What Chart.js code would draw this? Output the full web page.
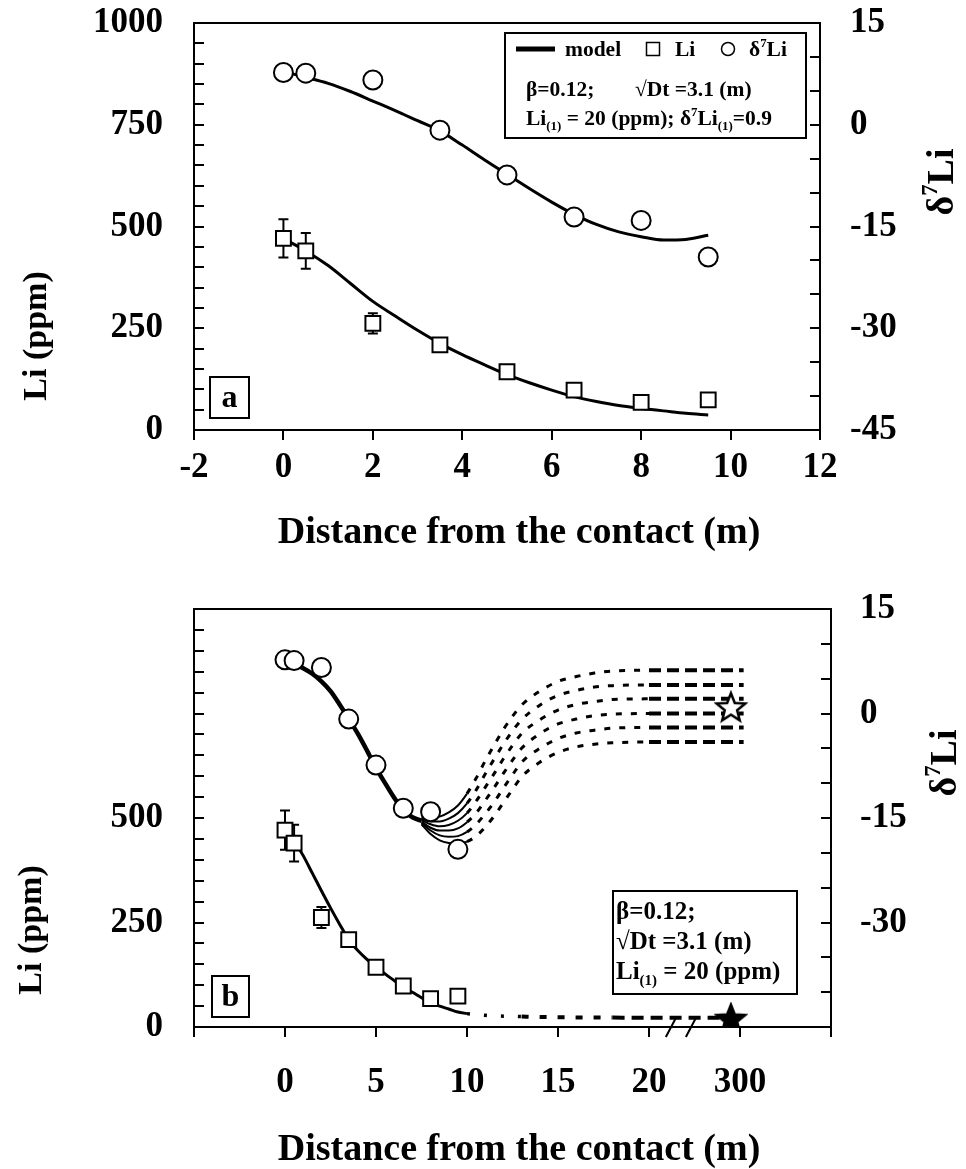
<!DOCTYPE html>
<html>
<head>
<meta charset="utf-8">
<title>Li and δ7Li across the contact</title>
<script src="https://cdn.jsdelivr.net/npm/chart.js@4.4.1/dist/chart.umd.min.js"></script>
<style>
  html, body { margin: 0; padding: 0; background: #fff; }
  #wrap { position: relative; width: 966px; height: 1169px; }
  canvas { position: absolute; left: 0; }
  #chart-a { top: 0; }
  #chart-b { top: 580px; }
</style>
</head>
<body>
<div id="wrap">
  <canvas id="chart-a" width="966" height="580"></canvas>
  <canvas id="chart-b" width="966" height="589"></canvas>
</div>
<script>
/* ---------- measured samples (same in both panels) ---------- */
var distance = [0, 0.5, 2, 3.5, 5, 6.5, 8, 9.5];
var liPpm    = [471, 440, 262, 209, 143, 98, 68, 74];
var liErr    = [47, 44, 25, 0, 0, 0, 0, 0];
var d7Li     = [7.7, 7.6, 6.6, -0.8, -7.4, -13.6, -14.1, -19.5];

/* ---------- panel a: model ---------- */
var modelX    = [0, 0.5, 1, 1.5, 2, 2.5, 3, 3.5, 4, 4.5, 5, 5.5, 6, 6.5, 7, 7.5, 8, 8.5, 9, 9.5];
var modelLi   = [470, 440, 404, 360, 316, 280, 245, 213, 185, 160, 136, 116, 98, 82, 70, 60, 53, 47, 41, 37];
var modelD7Li = [7.8, 7.0, 6.1, 4.9, 3.5, 2.1, 0.6, -0.9, -3.0, -5.2, -7.3, -9.4, -11.4, -13.2, -14.7, -15.8, -16.5, -17.0, -16.9, -16.3];

/* ---------- panel b: model ---------- */
var modelXB  = [0.5, 1, 1.5, 2, 2.5, 3, 3.5, 4, 4.5, 5, 5.5, 6, 6.5, 7, 7.5, 8, 8.5, 9, 9.5, 10];
var modelLiB = [445, 410, 368, 326, 285, 246, 209, 183, 162, 144, 127, 111, 95, 83, 70, 58, 50, 43, 36, 32];
var tailX    = [10, 11, 12, 13, 14, 15, 16, 18, 20, 22, 25.2];
var tailLi   = [32, 28, 26, 25, 24, 23.5, 23, 22.5, 22, 22, 22];

var bundleX    = [0.5, 1, 1.5, 2, 2.5, 3, 3.5, 4, 4.5, 5, 5.5, 6, 6.5, 7, 7.5];
var bundleD7Li = [7.1, 6.5, 5.7, 4.6, 3.2, 1.3, -0.75, -2.9, -5.3, -7.8, -10.0, -12.1, -13.9, -14.9, -15.4];

var fanX = [7.5, 8, 8.5, 9, 9.5, 10, 10.5, 11, 11.5, 12, 12.5, 13, 14, 15, 16, 17, 18, 20, 22, 25.2];
var fan1 = [-14.9, -15.0, -14.8, -14.2, -13.2, -11.5, -9.3, -6.8, -4.5, -2.3, -0.4, 1.2, 3.2, 4.6, 5.3, 5.8, 6.1, 6.2, 6.2, 6.2];
var fan2 = [-15.1, -15.5, -15.5, -15.1, -14.3, -12.9, -11.0, -8.7, -6.5, -4.4, -2.5, -0.9, 1.2, 2.6, 3.3, 3.8, 4.0, 4.1, 4.1, 4.1];
var fan3 = [-15.3, -15.9, -16.2, -16.0, -15.4, -14.3, -12.6, -10.6, -8.6, -6.5, -4.6, -2.9, -0.9, 0.5, 1.3, 1.7, 2.0, 2.1, 2.1, 2.1];
var fan4 = [-15.5, -16.4, -16.8, -16.8, -16.5, -15.6, -14.3, -12.5, -10.6, -8.6, -6.7, -5.0, -2.9, -1.5, -0.8, -0.3, -0.1, 0.0, 0.0, 0.0];
var fan5 = [-15.7, -16.8, -17.5, -17.7, -17.6, -17.0, -15.9, -14.4, -12.7, -10.7, -8.8, -7.0, -5.0, -3.6, -2.8, -2.4, -2.1, -2.0, -2.0, -2.0];
var fan6 = [-15.9, -17.3, -18.2, -18.6, -18.7, -18.4, -17.6, -16.3, -14.7, -12.8, -10.9, -9.1, -7.0, -5.6, -4.8, -4.4, -4.2, -4.1, -4.1, -4.1];

// end-member at 300 m (plotted on the broken axis at 24.5)
var starX    = [24.5];
var starLi   = [20];
var starD7Li = [0.9];
var breakX   = [21.2, 22.3];

/* ---------- tick labels ---------- */
var xTickLabelsA = ['-2', '0', '2', '4', '6', '8', '10', '12'];
var xTickLabelsB = ['', '0', '5', '10', '15', '20', '300', ''];
var liLabelsA = [0, 250, 500, 750, 1000];
var liLabelsB = [0, 250, 500];
var d7LabelsA = [-45, -30, -15, 0, 15];
var d7LabelsB = [-30, -15, 0, 15];

/* ---------- text ---------- */
var liTitle   = [['Li (ppm)']];
var d7Title   = [['\u03b4'], ['7', 'sup'], ['Li']];
var distTitle = [['Distance from the contact (m)']];
var betaText  = [['\u03b2=0.12;']];
var dtText    = [['\u221aDt =3.1 (m)']];
var li1Text   = [['Li'], ['(1)', 'sub'], [' = 20 (ppm)']];
var li1d7Text = [['Li'], ['(1)', 'sub'], [' = 20 (ppm); \u03b4'], ['7', 'sup'], ['Li'], ['(1)', 'sub'], ['=0.9']];

var black = '#000';
var serif = '"Liberation Serif", "Times New Roman", Times, serif';

function bold(size) { return 'bold ' + size + 'px ' + serif; }

function pts(xs, ys) {
  return xs.map(function(x, i) { return {x: x, y: ys[i]}; });
}

function richWidth(ctx, parts, size) {
  var w = 0;
  parts.forEach(function(p) {
    ctx.font = bold(p[1] ? size * 0.6 : size);
    w += ctx.measureText(p[0]).width;
  });
  return w;
}

function drawRich(ctx, x, y, parts, size) {
  ctx.textAlign = 'left';
  ctx.textBaseline = 'alphabetic';
  ctx.fillStyle = black;
  parts.forEach(function(p) {
    var s = p[1] ? size * 0.6 : size;
    var dy = p[1] === 'sup' ? -size * 0.42 : (p[1] === 'sub' ? size * 0.22 : 0);
    ctx.font = bold(s);
    ctx.fillText(p[0], x, y + dy);
    x += ctx.measureText(p[0]).width;
  });
  return x;
}

function drawCentered(ctx, cx, cy, parts, size, rotated) {
  ctx.save();
  ctx.translate(cx, cy);
  if (rotated) ctx.rotate(-Math.PI / 2);
  var w = richWidth(ctx, parts, size);
  drawRich(ctx, -w / 2, size * 0.33, parts, size);
  ctx.restore();
}

function makeStar(filled) {
  var c = document.createElement('canvas');
  c.width = 34; c.height = 34;
  var g = c.getContext('2d');
  g.beginPath();
  for (var i = 0; i < 10; i++) {
    var r = i % 2 ? 6.5 : 15;
    var a = -Math.PI / 2 + i * Math.PI / 5;
    g.lineTo(17 + r * Math.cos(a), 18 + r * Math.sin(a));
  }
  g.closePath();
  g.fillStyle = filled ? black : '#fff';
  g.fill();
  g.lineWidth = 2.5;
  g.strokeStyle = black;
  g.stroke();
  return c;
}

/* ---------- axes ---------- */
// label padding is large here, so the scale's own edge padding is zeroed
// to keep it from pushing the plot area around
function xAxis(min, max, step, labels, pad, height) {
  return {
    type: 'linear', position: 'bottom', min: min, max: max,
    border: {color: black, width: 2},
    grid: {drawOnChartArea: false, color: black, lineWidth: 2, tickLength: 10},
    ticks: {
      stepSize: step, autoSkip: false, maxRotation: 0, padding: pad,
      color: black, font: {size: 35, weight: 'bold', family: serif},
      callback: function(v, i) { return labels[i]; }
    },
    afterFit: function(s) { s.height = height; s.paddingLeft = 0; s.paddingRight = 0; }
  };
}

function yAxis(pos, min, max, step, labels, pad, width) {
  return {
    type: 'linear', position: pos, min: min, max: max,
    border: {color: black, width: 2},
    grid: {drawOnChartArea: false, color: black, lineWidth: 2, tickLength: -10},
    ticks: {
      stepSize: step, autoSkip: false, padding: pad,
      color: black, font: {size: 35, weight: 'bold', family: serif},
      callback: function(v) { return labels.indexOf(v) >= 0 ? String(v) : ''; }
    },
    afterFit: function(s) { s.width = width; s.paddingTop = 0; s.paddingBottom = 0; }
  };
}

/* ---------- datasets ---------- */
function liPoints() {
  return {data: pts(distance, liPpm), yAxisID: 'y', errors: liErr, order: 0,
    pointStyle: 'rect', pointRadius: 10.5, pointBorderWidth: 2,
    pointBorderColor: black, pointBackgroundColor: '#fff', showLine: false};
}
function d7Points() {
  return {data: pts(distance, d7Li), yAxisID: 'y2', order: 0,
    pointStyle: 'circle', pointRadius: 9.5, pointBorderWidth: 2,
    pointBorderColor: black, pointBackgroundColor: '#fff', showLine: false};
}
function curve(xs, ys, axis, width, segment) {
  var d = {data: pts(xs, ys), yAxisID: axis, order: 1, showLine: true,
    borderColor: black, borderWidth: width, pointRadius: 0,
    tension: 0.4, cubicInterpolationMode: 'monotone', borderCapStyle: 'butt'};
  if (segment) d.segment = segment;
  return d;
}

// solid up to x = 10, short dashes while rising, long dashes on the plateau
var fanSegment = {
  borderDash: function(c) {
    var x = fanX[c.p0DataIndex];
    return x < 10 ? [] : (x < 20 ? [6, 9] : [12, 6]);
  },
  borderWidth: function(c) {
    var x = fanX[c.p0DataIndex];
    return x < 10 ? 2 : (x < 20 ? 3 : 4);
  }
};
var tailSegment = {
  borderDash: function(c) {
    var x = tailX[c.p0DataIndex];
    return x < 13 ? [3, 14] : (x < 18 ? [7, 11] : [12, 7]);
  },
  borderWidth: function(c) {
    var x = tailX[c.p0DataIndex];
    return x < 13 ? 3.5 : 4;
  }
};

/* ---------- decorations drawn on each panel ---------- */
function errorBars(chart) {
  var ctx = chart.ctx;
  chart.data.datasets.forEach(function(ds) {
    if (!ds.errors) return;
    var ys = chart.scales[ds.yAxisID];
    var xs = chart.scales.x;
    ctx.save();
    ctx.strokeStyle = black;
    ctx.lineWidth = 2;
    ds.data.forEach(function(p, i) {
      var e = ds.errors[i];
      if (!e) return;
      var px = xs.getPixelForValue(p.x);
      var top = ys.getPixelForValue(p.y + e);
      var bot = ys.getPixelForValue(p.y - e);
      ctx.beginPath();
      ctx.moveTo(px, top); ctx.lineTo(px, bot);
      ctx.moveTo(px - 5, top); ctx.lineTo(px + 5, top);
      ctx.moveTo(px - 5, bot); ctx.lineTo(px + 5, bot);
      ctx.stroke();
    });
    ctx.restore();
  });
}

function topBorder(chart) {
  var a = chart.chartArea, ctx = chart.ctx;
  ctx.save();
  ctx.strokeStyle = black;
  ctx.lineWidth = 2;
  ctx.beginPath();
  ctx.moveTo(a.left - 1, a.top);
  ctx.lineTo(a.right + 1, a.top);
  ctx.stroke();
  ctx.restore();
}

function box(ctx, x, y, w, h, lw) {
  ctx.save();
  ctx.strokeStyle = black;
  ctx.lineWidth = lw;
  ctx.strokeRect(x, y, w, h);
  ctx.restore();
}

var decorA = {
  id: 'decorA',
  beforeDatasetsDraw: errorBars,
  afterDraw: function(chart) {
    var ctx = chart.ctx;
    topBorder(chart);
    drawCentered(ctx, 35, 336, liTitle, 34, true);
    drawCentered(ctx, 940, 182, d7Title, 38, true);
    drawCentered(ctx, 519, 530, distTitle, 38, false);

    // legend box
    ctx.save();
    ctx.fillStyle = '#fff';
    ctx.fillRect(505, 33, 301, 105);
    ctx.restore();
    box(ctx, 505, 33, 301, 105, 2);
    ctx.save();
    ctx.strokeStyle = black;
    ctx.lineWidth = 5;
    ctx.beginPath(); ctx.moveTo(516, 49); ctx.lineTo(555, 49); ctx.stroke();
    ctx.lineWidth = 1.5;
    ctx.strokeRect(646.5, 42.5, 13, 13);
    ctx.beginPath(); ctx.arc(728, 49, 6.5, 0, Math.PI * 2); ctx.stroke();
    ctx.restore();
    drawRich(ctx, 565, 56, [['model']], 21.5);
    drawRich(ctx, 675, 56, [['Li']], 21.5);
    drawRich(ctx, 749, 56, d7Title, 21.5);
    drawRich(ctx, 526, 96, betaText, 21.5);
    drawRich(ctx, 635, 96, dtText, 21.5);
    drawRich(ctx, 526, 125, li1d7Text, 21.5);

    // panel letter
    box(ctx, 210, 377, 39, 41, 2);
    drawCentered(ctx, 229.5, 396, [['a']], 32, false);
  }
};

var decorB = {
  id: 'decorB',
  beforeDatasetsDraw: errorBars,
  afterDraw: function(chart) {
    var ctx = chart.ctx;
    var xs = chart.scales.x;
    var bottom = chart.chartArea.bottom;
    topBorder(chart);
    drawCentered(ctx, 30, 350, liTitle, 34, true);
    drawCentered(ctx, 943, 183, d7Title, 38, true);
    drawCentered(ctx, 519, 567, distTitle, 38, false);

    // axis break
    ctx.save();
    ctx.strokeStyle = black;
    ctx.lineWidth = 2;
    breakX.forEach(function(v) {
      var px = xs.getPixelForValue(v);
      ctx.beginPath();
      ctx.moveTo(px - 5, bottom + 10);
      ctx.lineTo(px + 5, bottom - 9);
      ctx.stroke();
    });
    ctx.restore();

    // parameter box
    box(ctx, 613, 311, 184, 103, 2);
    drawRich(ctx, 616, 339, betaText, 25);
    drawRich(ctx, 616, 369, dtText, 25);
    drawRich(ctx, 616, 399, li1Text, 25);

    // panel letter
    box(ctx, 212, 396, 37, 41, 2);
    drawCentered(ctx, 230.5, 415, [['b']], 32, false);
  }
};

var common = {
  responsive: false,
  devicePixelRatio: 1,
  animation: false,
  events: [],
  plugins: {legend: {display: false}, tooltip: {enabled: false}}
};

new Chart(document.getElementById('chart-a'), {
  type: 'scatter',
  data: {
    datasets: [
      liPoints(),
      d7Points(),
      curve(modelX, modelLi, 'y', 3),
      curve(modelX, modelD7Li, 'y2', 3)
    ]
  },
  options: Object.assign({}, common, {
    layout: {padding: {top: 23, left: 0, right: 0, bottom: 0}},
    scales: {
      x: xAxis(-2, 12, 2, xTickLabelsA, 7, 150),
      y: yAxis('left', 0, 1000, 50, liLabelsA, 41, 194),
      y2: yAxis('right', -45, 15, 5, d7LabelsA, 40, 146)
    }
  }),
  plugins: [decorA]
});

new Chart(document.getElementById('chart-b'), {
  type: 'scatter',
  data: {
    datasets: [
      liPoints(),
      d7Points(),
      {data: pts(starX, starLi), yAxisID: 'y', order: 0, showLine: false,
        pointStyle: makeStar(true), pointRadius: 14},
      {data: pts(starX, starD7Li), yAxisID: 'y2', order: 0, showLine: false,
        pointStyle: makeStar(false), pointRadius: 14},
      curve(modelXB, modelLiB, 'y', 3),
      curve(tailX, tailLi, 'y', 4, tailSegment),
      curve(bundleX, bundleD7Li, 'y2', 4.5),
      curve(fanX, fan1, 'y2', 2, fanSegment),
      curve(fanX, fan2, 'y2', 2, fanSegment),
      curve(fanX, fan3, 'y2', 2, fanSegment),
      curve(fanX, fan4, 'y2', 2, fanSegment),
      curve(fanX, fan5, 'y2', 2, fanSegment),
      curve(fanX, fan6, 'y2', 2, fanSegment)
    ]
  },
  options: Object.assign({}, common, {
    layout: {padding: {top: 29, left: 0, right: 0, bottom: 0}},
    scales: {
      x: xAxis(-5, 30, 5, xTickLabelsB, 25, 142),
      y: yAxis('left', 0, 1000, 50, liLabelsB, 41, 194),
      y2: yAxis('right', -45, 15, 5, d7LabelsB, 39, 135)
    }
  }),
  plugins: [decorB]
});
</script>
</body>
</html>
